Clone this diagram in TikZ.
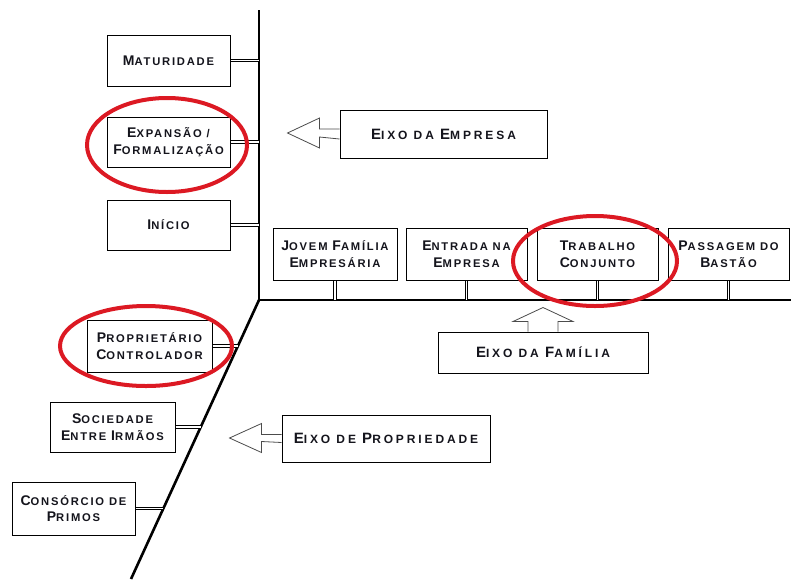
\documentclass[tikz,border=0pt]{standalone}
\usepackage{fontspec}
\setmainfont{Liberation Sans}
\usetikzlibrary{calc}
\definecolor{ink}{RGB}{20,20,28}
\definecolor{ring}{RGB}{220,25,35}
% small-caps lettering: large initial, smaller capitals after it
\newcommand\sk[2]{{\fontsize{14}{16}\selectfont #1}{\fontsize{11.2}{16}\selectfont #2}}
\newcommand\bigsk[2]{{\fontsize{15}{17}\selectfont #1}{\fontsize{12}{17}\selectfont #2}}
\begin{document}
\begin{tikzpicture}[x=1pt,y=-1pt,
  box/.style={draw=black,line width=1pt,fill=white,rectangle,align=center,
    text=ink,font=\fontsize{11.2}{16.5}\selectfont\bfseries\addfontfeatures{LetterSpace=16},
    inner sep=1pt},
  label box/.style={box,font=\fontsize{12}{17}\selectfont\bfseries\addfontfeatures{LetterSpace=24}},
  axis/.style={line width=2.6pt,black},
  dbl/.style={draw=black,line width=0.8pt,double=white,double distance=1.8pt},
  blockarrow/.style={draw=black!70,line width=0.8pt,fill=white,line join=miter},
  oval/.style={draw=ring,line width=4pt}]
\useasboundingbox (0,0) rectangle (791,579);

% axes
\coordinate (O) at (259,300);
\coordinate (T) at (259,10);
\coordinate (R) at (791,300);
\coordinate (B) at (131,579);
\draw[axis] (T) -- (O) -- (R);
\draw[axis] (O) -- (B);

% company axis stages
\node[box,minimum width=123,minimum height=51] (mat) at (168.5,60.5) {\sk{M}{ATURIDADE}};
\node[box,minimum width=123,minimum height=50] (exp) at (168.5,142) {\sk{E}{XPANSÃO /}\\\sk{F}{ORMALIZAÇÃO}};
\node[box,minimum width=123,minimum height=50] (ini) at (168.5,225) {\sk{I}{NÍCIO}};
\foreach \n in {mat,exp,ini} \draw[dbl] (\n.east) -- (\n.east -| O);

% family axis stages
\node[box,minimum width=124,minimum height=52] (jov) at (335,254) {\sk{J}{OVEM} \sk{F}{AMÍLIA}\\\sk{E}{MPRESÁRIA}};
\node[box,minimum width=121,minimum height=52] (ent) at (466.5,254) {\sk{E}{NTRADA NA}\\\sk{E}{MPRESA}};
\node[box,minimum width=121,minimum height=52] (tra) at (597.5,254) {\sk{T}{RABALHO}\\\sk{C}{ONJUNTO}};
\node[box,minimum width=121,minimum height=52] (pas) at (728.5,254) {\sk{P}{ASSAGEM DO}\\\sk{B}{ASTÃO}};
\foreach \n in {jov,ent,tra,pas} \draw[dbl] (\n.south) -- (\n.south |- O);

% ownership axis stages
\node[box,minimum width=125,minimum height=52] (pro) at (149.5,346) {\sk{P}{ROPRIETÁRIO}\\\sk{C}{ONTROLADOR}};
\node[box,minimum width=125,minimum height=50] (soc) at (112.5,427) {\sk{S}{OCIEDADE}\\\sk{E}{NTRE} \sk{I}{RMÃOS}};
\node[box,minimum width=123,minimum height=53] (con) at (73.5,508.5) {\sk{C}{ONSÓRCIO DE}\\\sk{P}{RIMOS}};
\foreach \n in {pro,soc,con}
  \draw[dbl] (\n.east) -- (intersection of \n.east--{$(\n.east)+(10,0)$} and O--B);

% axis labels with block arrows
\node[label box,minimum width=207,minimum height=48] (eemp) at (443.5,134) {\bigsk{E}{IXO DA} \bigsk{E}{MPRESA}};
\draw[blockarrow] ($(eemp.west)+(0,-5)$) -- ++(-20,0) -- ++(0,-11) -- ++(-32,15)
  -- ++(32,15) -- ++(0,-11) -- ($(eemp.west)+(0,5)$);

\node[label box,minimum width=210,minimum height=41] (efam) at (543,352.5) {\bigsk{E}{IXO DA} \bigsk{F}{AMÍLIA}};
\draw[blockarrow] ($(efam.north)+(-15,0)$) -- ++(0,-10) -- ++(-15,0) -- ++(30,-14)
  -- ++(30,14) -- ++(-15,0) -- ($(efam.north)+(15,0)$);

\node[label box,minimum width=208,minimum height=47] (eprop) at (386,438.5) {\bigsk{E}{IXO DE} \bigsk{P}{ROPRIEDADE}};
\draw[blockarrow] ($(eprop.west)+(0,-4)$) -- ++(-20,0) -- ++(0,-11) -- ++(-32,14.5)
  -- ++(32,14.5) -- ++(0,-11) -- ($(eprop.west)+(0,4)$);

% highlighted stages
\draw[oval] ($(exp.center)+(-1.5,3)$) ellipse [x radius=80pt,y radius=47pt];
\draw[oval] ($(tra.center)+(-2.5,7)$) ellipse [x radius=82pt,y radius=45pt];
\draw[oval] ($(pro.center)+(-3.5,0)$) ellipse [x radius=86pt,y radius=40pt];
\end{tikzpicture}
\end{document}
